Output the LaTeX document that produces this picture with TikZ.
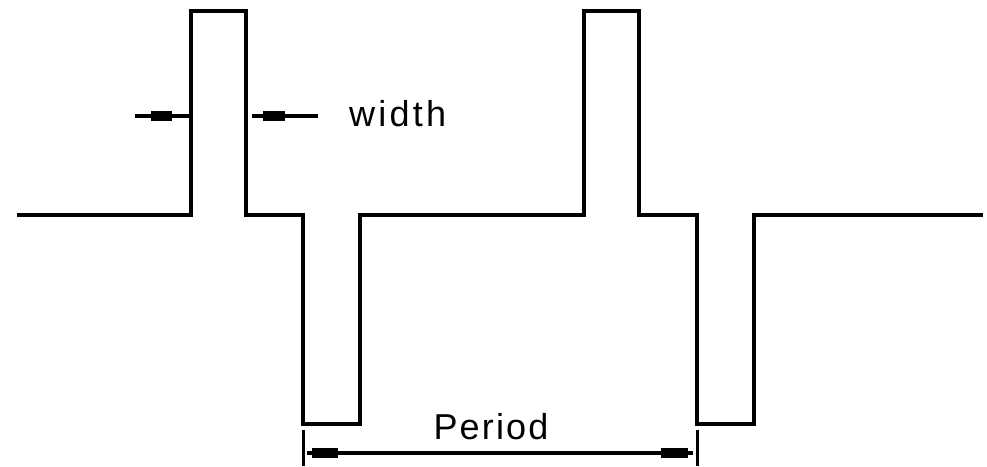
\documentclass[tikz,border=0pt]{standalone}
\usepackage{fontspec}
\setmainfont{Liberation Sans}
\begin{document}
\begin{tikzpicture}[x=1pt,y=-1pt,
  wave/.style={line width=3.2pt,line join=miter},
  dim/.style={line width=3.2pt},
  mk/.style={fill=black,draw=none},
  lbl/.style={font=\fontsize{36}{40}\selectfont,inner sep=0pt}]
\useasboundingbox (0,0) rectangle (987,466);
% waveform
\draw[wave] (17,215) -- (191,215) -- (191,11) -- (246,11) -- (246,215)
  -- (303,215) -- (303,424) -- (360,424) -- (360,215)
  -- (584,215) -- (584,11) -- (639,11) -- (639,215)
  -- (697,215) -- (697,424) -- (754,424) -- (754,215) -- (983,215);
% width dimension
\coordinate (wl0) at (135,116); \coordinate (wl1) at (190,116);
\coordinate (wr0) at (318,116); \coordinate (wr1) at (252,116);
\draw[dim] (wl0) -- (wl1);
\fill[mk] (151,111) rectangle (172,121);
\draw[dim] (wr0) -- (wr1);
\fill[mk] (263,111) rectangle (285,121);
\node[lbl,anchor=west] (width) at (349,114) {\addfontfeature{LetterSpace=9}width};
% period dimension
\coordinate (pa0) at (303,430); \coordinate (pa1) at (303,466);
\coordinate (pb0) at (697,430); \coordinate (pb1) at (697,466);
\draw[line width=3pt] (pa0) -- (pa1);
\draw[line width=3pt] (pb0) -- (pb1);
\coordinate (p0) at (307,453); \coordinate (p1) at (693,453);
\draw[dim] (p0) -- (p1);
\fill[mk] (312,448) rectangle (338,458);
\fill[mk] (661,448) rectangle (688,458);
\node[lbl] (period) at (491,427) {\addfontfeature{LetterSpace=6}Period};
\end{tikzpicture}
\end{document}
